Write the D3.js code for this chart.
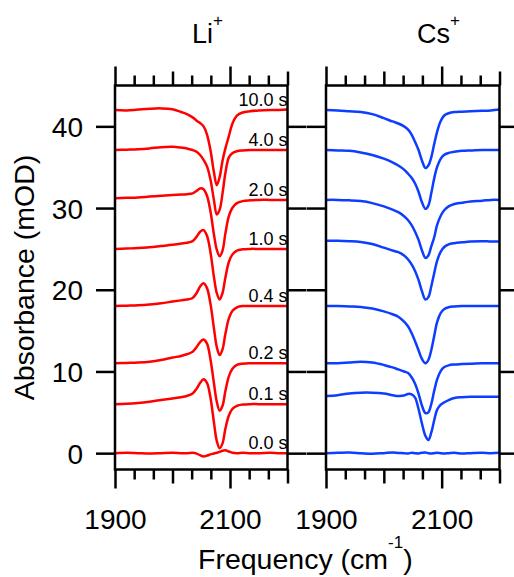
<!DOCTYPE html>
<html>
<head>
<meta charset="utf-8">
<script src="https://cdn.jsdelivr.net/npm/d3@7"></script>
<style>
  html, body { margin: 0; padding: 0; background: #fff; }
  svg { display: block; }
  text { font-family: "Liberation Sans", Arial, Helvetica, sans-serif; fill: #000; }
</style>
</head>
<body>
<svg id="chart" width="514" height="577"></svg>
<script>
// Frequency grid shared by every spectrum (cm^-1)
const freq = [1900, 1920, 1940, 1960, 1980, 2000, 2015, 2025, 2035, 2042, 2048, 2054, 2060, 2066,
              2072, 2077, 2082, 2087, 2092, 2098, 2104, 2112, 2122, 2135, 2150, 2170, 2185, 2200];

// Delay time of each spectrum
const timeLabels = ["0.0 s", "0.1 s", "0.2 s", "0.4 s", "1.0 s", "2.0 s", "4.0 s", "10.0 s"];

// Li+ spectra (mOD, already offset for stacking)
const li00 = [0, 0.05, 0, -0.05, 0, 0.05, 0, 0, 0.05, -0.05, -0.25, -0.4, -0.3, -0.15, -0.05, 0.05, 0.15, 0.3, 0.35, 0.2, 0.05, 0, 0.05, 0, 0, 0.05, 0, 0];
const li01 = [6.0, 6.05, 6.15, 6.3, 6.5, 6.7, 6.85, 7.0, 7.3, 7.9, 8.6, 9.05, 8.6, 6.8, 3.8, 1.5, 0.6, 1.2, 3.0, 4.6, 5.4, 5.8, 5.95, 6.0, 6.0, 6.0, 6.0, 6.0];
const li02 = [11.0, 11.05, 11.1, 11.2, 11.4, 11.7, 11.9, 12.1, 12.4, 13.0, 13.6, 13.9, 13.4, 11.5, 8.6, 6.3, 5.2, 5.8, 7.6, 9.4, 10.3, 10.8, 10.95, 11.0, 11.0, 11.0, 11.0, 11.0];
const li04 = [18.0, 18.05, 18.1, 18.2, 18.35, 18.55, 18.7, 18.8, 19.0, 19.6, 20.4, 20.8, 20.2, 18.3, 15.3, 13.0, 12.0, 12.7, 14.6, 16.5, 17.4, 17.85, 18.0, 18.0, 18.0, 18.0, 18.0, 18.0];
const li10 = [25.0, 25.05, 25.1, 25.2, 25.35, 25.5, 25.65, 25.75, 25.95, 26.5, 27.1, 27.3, 26.6, 24.6, 21.6, 19.6, 18.8, 19.6, 21.5, 23.4, 24.3, 24.8, 24.95, 25.0, 25.0, 25.0, 25.0, 25.0];
const li20 = [31.2, 31.25, 31.3, 31.4, 31.5, 31.6, 31.65, 31.7, 31.8, 32.1, 32.4, 32.3, 31.5, 29.6, 26.8, 24.9, 24.1, 24.8, 26.9, 29.0, 30.0, 30.6, 30.85, 30.95, 31.0, 31.0, 31.0, 31.0];
const li40 = [37.1, 37.15, 37.2, 37.3, 37.45, 37.5, 37.4, 37.3, 37.1, 36.9, 36.5, 35.9, 35.1, 33.5, 31.0, 29.2, 29.8, 31.8, 34.3, 36.2, 36.7, 36.95, 37.05, 37.1, 37.1, 37.1, 37.1, 37.1];
const li100 = [42.0, 41.95, 42.05, 42.15, 42.2, 42.1, 41.75, 41.5, 41.1, 40.7, 40.4, 40.0, 39.0, 37.1, 34.4, 32.8, 33.8, 35.8, 37.3, 38.8, 40.3, 41.3, 41.7, 41.85, 41.95, 42.0, 42.0, 42.05];

// Cs+ spectra (mOD, already offset for stacking)
const cs00 = [0, 0.05, 0.08, 0, -0.08, 0, 0.08, 0.03, 0, -0.05, 0.05, 0, -0.03, 0.05, 0.08, 0, -0.05, 0, 0.05, 0, -0.05, 0, 0.05, -0.05, 0, 0.05, 0, 0.05];
const cs01 = [7.0, 7.1, 7.3, 7.4, 7.4, 7.3, 7.1, 7.0, 7.05, 7.25, 7.2, 6.8, 5.4, 3.6, 2.1, 1.6, 2.5, 4.0, 5.3, 5.9, 6.2, 6.5, 6.75, 6.85, 6.9, 6.9, 6.9, 6.9];
const cs02 = [11.0, 11.0, 11.1, 11.2, 11.1, 10.8, 10.5, 10.25, 10.0, 9.8, 9.3, 8.5, 7.3, 5.8, 4.9, 5.0, 6.0, 7.6, 9.0, 10.0, 10.5, 10.75, 10.85, 10.9, 10.95, 11.0, 11.0, 11.0];
const cs04 = [18.0, 18.0, 17.95, 17.9, 17.7, 17.35, 17.0, 16.7, 16.1, 15.5, 14.7, 13.7, 12.6, 11.5, 11.0, 11.4, 12.6, 14.3, 16.0, 17.1, 17.6, 17.85, 17.95, 18.0, 18.0, 18.0, 18.0, 18.0];
const cs10 = [26.0, 26.0, 25.95, 25.85, 25.6, 25.15, 24.8, 24.6, 24.2, 23.7, 23.1, 22.3, 21.2, 19.8, 18.8, 19.1, 20.4, 22.0, 23.5, 24.6, 25.2, 25.55, 25.7, 25.8, 25.9, 25.95, 25.9, 25.9];
const cs20 = [31.0, 31.0, 30.95, 30.85, 30.6, 30.2, 29.8, 29.5, 29.0, 28.5, 27.9, 27.1, 26.1, 24.8, 23.9, 24.2, 25.3, 26.4, 27.9, 29.0, 29.7, 30.2, 30.5, 30.65, 30.8, 30.9, 31.0, 31.0];
const cs40 = [37.1, 37.05, 37.0, 36.8, 36.5, 36.05, 35.6, 35.2, 34.7, 34.2, 33.7, 33.0, 32.0, 30.7, 29.9, 30.3, 31.8, 33.6, 35.0, 36.0, 36.5, 36.75, 36.9, 37.0, 37.05, 37.1, 37.1, 37.1];
const cs100 = [42.0, 41.95, 41.85, 41.75, 41.5, 41.0, 40.6, 40.35, 40.0, 39.6, 39.0, 38.1, 37.1, 35.8, 34.9, 35.2, 36.2, 37.8, 39.3, 40.6, 41.3, 41.6, 41.75, 41.8, 41.85, 41.9, 41.95, 42.05];

const liTraces = [li00, li01, li02, li04, li10, li20, li40, li100];
const csTraces = [cs00, cs01, cs02, cs04, cs10, cs20, cs40, cs100];

// Axis ticks
const yTicks = [0, 10, 20, 30, 40];
const xMajorTicks = [1900, 2100];
const xMidTicks = [2000, 2200];
const xMinorTicks = [1933.33, 1966.67, 2033.33, 2066.67, 2133.33, 2166.67];

const svg = d3.select("#chart");
const plotTop = 85.5, plotBottom = 469.5;
const y = d3.scaleLinear().domain([-2, 45]).range([plotBottom, plotTop]);

const panels = [
  { name: "Li", x0: 115, x1: 287.5, traces: liTraces, color: "#ff0000", labels: true,  titleX: 192 },
  { name: "Cs", x0: 326, x1: 499.5, traces: csTraces, color: "#0d3dff", labels: false, titleX: 417 }
];

const axisStyle = g => {
  g.select(".domain").remove();
  g.selectAll(".tick line").attr("stroke", "#000").attr("stroke-width", 2.5);
  g.selectAll(".tick text").attr("font-size", 28).attr("font-family", "Liberation Sans, Arial, sans-serif");
};

panels.forEach((p, pi) => {
  const x = d3.scaleLinear().domain([1900, 2200]).range([p.x0, p.x1]);
  const g = svg.append("g");

  // spectra
  const line = d3.line()
    .x((d, i) => x(freq[i]))
    .y(d => y(d))
    .curve(d3.curveCatmullRom.alpha(0.5));

  g.selectAll("path.trace")
    .data(p.traces)
    .join("path")
    .attr("class", "trace")
    .attr("d", line)
    .attr("fill", "none")
    .attr("stroke", p.color)
    .attr("stroke-width", 2.5)
    .attr("stroke-linejoin", "round");

  // top ticks (outward)
  [[xMajorTicks, 19], [xMidTicks, 14], [xMinorTicks, 10]].forEach(([vals, len]) => {
    g.append("g").attr("transform", `translate(0,${plotTop})`)
      .call(d3.axisTop(x).tickValues(vals).tickSize(len).tickFormat(""))
      .call(axisStyle);
  });
  // bottom ticks (outward), labels on major ticks
  g.append("g").attr("transform", `translate(0,${plotBottom})`)
    .call(d3.axisBottom(x).tickValues(xMajorTicks).tickSize(19).tickPadding(21).tickFormat(d3.format("d")))
    .call(axisStyle);
  [[xMidTicks, 14], [xMinorTicks, 10]].forEach(([vals, len]) => {
    g.append("g").attr("transform", `translate(0,${plotBottom})`)
      .call(d3.axisBottom(x).tickValues(vals).tickSize(len).tickFormat(""))
      .call(axisStyle);
  });

  // left and right y ticks
  const left = g.append("g").attr("transform", `translate(${p.x0},0)`)
    .call(d3.axisLeft(y).tickValues(yTicks).tickSize(19).tickPadding(13)
      .tickFormat(pi === 0 ? d3.format("d") : ""))
    .call(axisStyle);
  left.selectAll(".tick text").attr("dy", "0.36em");
  g.append("g").attr("transform", `translate(${p.x1},0)`)
    .call(d3.axisRight(y).tickValues(yTicks).tickSize(19).tickFormat(""))
    .call(axisStyle);

  // frame
  g.append("rect")
    .attr("x", p.x0).attr("y", plotTop)
    .attr("width", p.x1 - p.x0).attr("height", plotBottom - plotTop)
    .attr("fill", "none").attr("stroke", "#000").attr("stroke-width", 2.5);

  // delay labels
  if (p.labels) {
    g.selectAll("text.delay")
      .data(p.traces)
      .join("text")
      .attr("class", "delay")
      .attr("x", p.x1)
      .attr("y", d => y(d[d.length - 1]) - 4)
      .attr("text-anchor", "end")
      .attr("font-size", 18)
      .text((d, i) => timeLabels[i]);
  }

  // panel title with superscript +
  const t = svg.append("text")
    .attr("x", p.titleX).attr("y", 43)
    .attr("font-size", 27);
  t.append("tspan").text(p.name);
  t.append("tspan").attr("dy", -17).attr("font-size", 17).text("+");
});

// axis titles
svg.append("text")
  .attr("transform", `translate(34,${(plotTop + plotBottom) / 2}) rotate(-90)`)
  .attr("text-anchor", "middle")
  .attr("font-size", 28.5)
  .text("Absorbance (mOD)");

const xt = svg.append("text")
  .attr("x", 198).attr("y", 569)
  .attr("font-size", 28.5);
xt.append("tspan").text("Frequency (cm");
xt.append("tspan").attr("dy", -21).attr("font-size", 17).text("-1");
xt.append("tspan").attr("dy", 21).text(")");
</script>
</body>
</html>
